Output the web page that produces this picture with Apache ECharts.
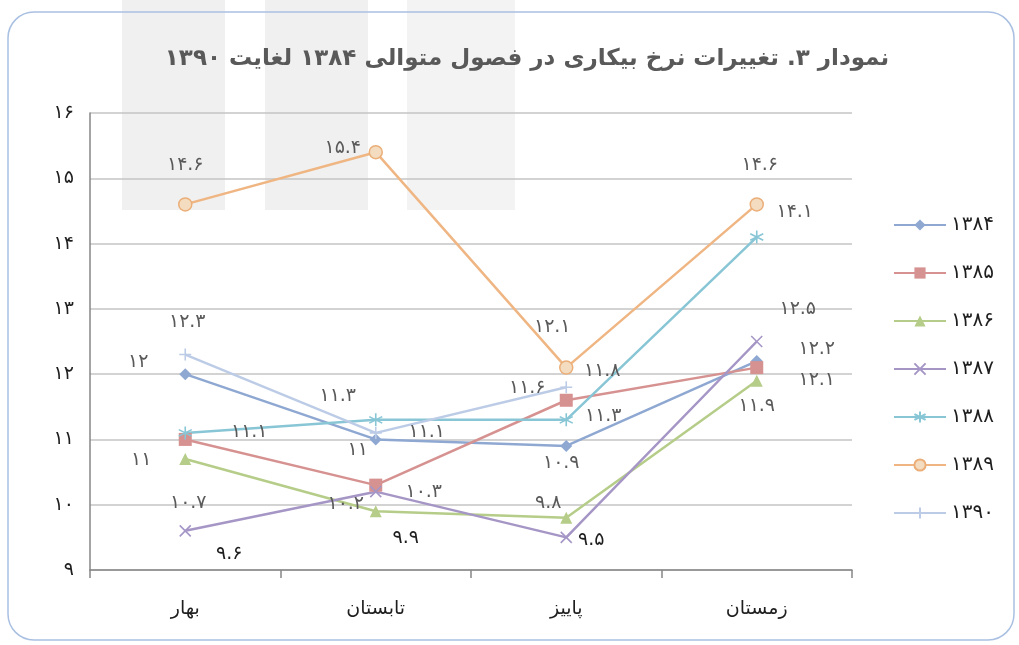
<!DOCTYPE html>
<html>
<head>
<meta charset="utf-8">
<script src="https://cdn.jsdelivr.net/npm/echarts@6/dist/echarts.min.js"></script>
<style>
html,body{margin:0;padding:0;background:#fff;}
#chart{width:1019px;height:645px;}
</style>
</head>
<body>
<div id="chart"></div>
<script>
// ---- data ----
const categories = ['بهار', 'تابستان', 'پاییز', 'زمستان'];
const yearNames = ['۱۳۸۴', '۱۳۸۵', '۱۳۸۶', '۱۳۸۷', '۱۳۸۸', '۱۳۸۹', '۱۳۹۰'];
const s1384 = [12, 11, 10.9, 12.2];
const s1385 = [11, 10.3, 11.6, 12.1];
const s1386 = [10.7, 9.9, 9.8, 11.9];
const s1387 = [9.6, 10.2, 9.5, 12.5];
const s1388 = [11.1, 11.3, 11.3, 14.1];
const s1389 = [14.6, 15.4, 12.1, 14.6];
const s1390 = [12.3, 11.1, 11.8, null];
const yMin = 9, yMax = 16, yStep = 1;

// ---- layout / style (not data) ----
const labelOffsets = [
  [[-47, -12], [-18, 11], [-5, 17], [60, -12]],
  [[-44, 21], [48, 7], [-39, -12], [60, 12]],
  [[3, 44], [30, 27], [-18, -15], [0, 25]],
  [[44, 23], [-30, 12], [25, 3], [41, -32]],
  [[64, -1], [-38, -24], [37, -4], [38, -25]],
  [[0, -39], [-33, -4], [-14, -41], [3, -39]],
  [[2, -32], [51, -1], [36, -16], [0, 0]]
];
const darkLabels = [[], [], [1], [0, 2], [], [], []];
const colors = ['#8EA8D2', '#D69290', '#B5CD88', '#A596C6', '#88C6D6', '#EFB683', '#BDCCE6'];
const symbols = [
  'diamond', 'rect', 'triangle',
  'path://M0,0L10,10M0,10L10,0',
  'path://M5,0L5,10M0,2.5L10,7.5M0,7.5L10,2.5',
  'circle',
  'path://M5,0L5,10M0,5L10,5'
];
const symbolSizes = [12, 13, 12, 11, 13, 13, 12];
const allSeries = [s1384, s1385, s1386, s1387, s1388, s1389, s1390];

const toFa = v => String(v).replace(/\d/g, d => '۰۱۲۳۴۵۶۷۸۹'[d]);
const FONT = 'DejaVu Sans';

const series = allSeries.map((vals, si) => {
  const isPath = symbols[si].indexOf('path://') === 0;
  const item = {color: colors[si]};
  if (isPath) { item.borderColor = colors[si]; item.borderWidth = 1.6; }
  if (si === 5) { item.color = '#F3DCBF'; item.borderColor = '#EBAE78'; item.borderWidth = 1.5; }
  return {
    name: yearNames[si],
    type: 'line',
    symbol: symbols[si],
    symbolSize: symbolSizes[si],
    lineStyle: {color: colors[si], width: 2.5},
    itemStyle: item,
    z: 3,
    data: vals.map((v, i) => ({
      value: v,
      label: {
        offset: labelOffsets[si][i],
        color: darkLabels[si].indexOf(i) >= 0 ? '#1e1e1e' : '#5a5a5a'
      }
    })),
    label: {
      show: true,
      position: 'inside',
      align: 'center',
      verticalAlign: 'middle',
      fontFamily: FONT,
      fontSize: 19,
      formatter: p => p.value == null ? '' : toFa(p.value)
    },
    emphasis: {disabled: true}
  };
});

const chart = echarts.init(document.getElementById('chart'), null, {renderer: 'canvas'});
chart.setOption({
  animation: false,
  backgroundColor: '#ffffff',
  title: {
    text: 'نمودار ۳. تغییرات نرخ بیکاری در فصول متوالی ۱۳۸۴ لغایت ۱۳۹۰',
    left: 522,
    top: 43,
    textAlign: 'center',
    textStyle: {fontFamily: FONT, fontWeight: 'bold', fontSize: 23, color: '#595959'}
  },
  graphic: [
    {type: 'rect', z: -10, silent: true, shape: {x: 122, y: 0, width: 103, height: 210}, style: {fill: '#f0f0f0'}},
    {type: 'rect', z: -10, silent: true, shape: {x: 265, y: 0, width: 103, height: 210}, style: {fill: '#f0f0f0'}},
    {type: 'rect', z: -10, silent: true, shape: {x: 407, y: 0, width: 108, height: 210}, style: {fill: '#f3f3f3'}},
    {type: 'rect', z: -5, silent: true, shape: {x: 8, y: 12, width: 1006, height: 628, r: 26},
      style: {fill: 'none', stroke: '#A9C0E2', lineWidth: 1.5}}
  ],
  legend: {
    orient: 'vertical',
    left: 888,
    top: 210,
    itemWidth: 52,
    itemHeight: 14,
    itemGap: 28,
    data: yearNames,
    textStyle: {fontFamily: FONT, fontSize: 20, color: '#1e1e1e'}
  },
  grid: {left: 90, right: 167, top: 113, bottom: 75},
  xAxis: {
    type: 'category',
    data: categories,
    boundaryGap: true,
    axisLine: {lineStyle: {color: '#868686', width: 1.5}},
    axisTick: {show: true, length: 8, lineStyle: {color: '#868686', width: 1.5}},
    axisLabel: {fontFamily: FONT, fontSize: 19, color: '#1e1e1e', margin: 30}
  },
  yAxis: {
    type: 'value',
    min: yMin,
    max: yMax,
    interval: yStep,
    axisLine: {show: true, lineStyle: {color: '#868686', width: 1.5}},
    axisTick: {show: false},
    splitLine: {lineStyle: {color: '#c4c4c4', width: 1.5}},
    axisLabel: {fontFamily: FONT, fontSize: 19, color: '#1e1e1e', margin: 16, formatter: v => toFa(v)}
  },
  series: series
});
</script>
</body>
</html>
